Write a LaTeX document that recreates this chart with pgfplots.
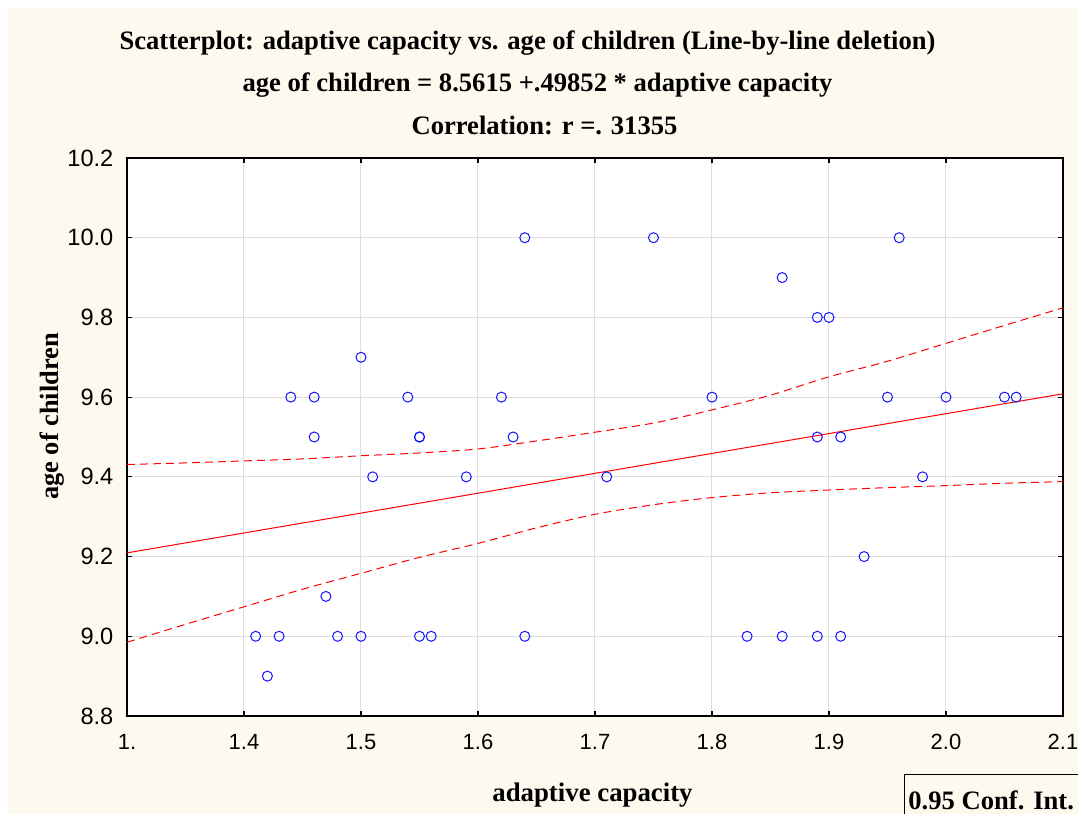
\documentclass[border=0pt]{standalone}
\usepackage{fontspec}
\setmainfont{Liberation Serif}
\setsansfont{Liberation Sans}
\usepackage{pgfplots}
\pgfplotsset{compat=1.18}
\definecolor{cream}{RGB}{253,249,238}
\definecolor{gridgray}{RGB}{222,222,222}
\definecolor{ptblue}{RGB}{20,20,255}
\definecolor{lnred}{RGB}{255,0,0}

\begin{document}
\begin{tikzpicture}[x=1pt,y=1pt]
\fill[white] (0,0) rectangle (539,407);
\fill[cream] (4,0) rectangle (539,403);
\useasboundingbox (0,0) rectangle (539,407);
\begin{axis}[
  at={(63.5pt,49pt)}, anchor=south west,
  scale only axis, width=468pt, height=279pt,
  xmin=1.3, xmax=2.1, ymin=8.8, ymax=10.2,
  axis background/.style={fill=white},
  axis line style={black, line width=0.75pt},
  xtick={1.3,1.4,1.5,1.6,1.7,1.8,1.9,2.0,2.1},
  xticklabels={1.,1.4,1.5,1.6,1.7,1.8,1.9,2.0,2.1},
  ytick={8.8,9.0,9.2,9.4,9.6,9.8,10.0,10.2},
  yticklabels={8.8,9.0,9.2,9.4,9.6,9.8,10.0,10.2},
  tick align=inside, major tick length=2.5pt,
  tick style={black, line width=0.6pt},
  grid=major,
  major grid style={gridgray, line width=0.5pt},
  xticklabel style={font=\sffamily\fontsize{11}{12}\selectfont, yshift=-5.5pt},
  yticklabel style={font=\sffamily\fontsize{11.8}{13}\selectfont, xshift=-3.3pt},
  clip=true,
]
\addplot[lnred, line width=0.5pt] coordinates {(1.3,9.2093) (2.1,9.6084)};
\addplot[lnred, line width=0.5pt, dash pattern=on 4pt off 2.5pt, smooth] coordinates {
(1.30,9.431) (1.35,9.435) (1.40,9.440) (1.45,9.445) (1.50,9.453) (1.55,9.460)
(1.60,9.470) (1.65,9.490) (1.70,9.512) (1.75,9.535) (1.80,9.568) (1.85,9.605)
(1.90,9.651) (1.95,9.690) (2.00,9.735) (2.05,9.780) (2.10,9.824)};
\addplot[lnred, line width=0.5pt, dash pattern=on 4pt off 2.5pt, smooth] coordinates {
(1.30,8.985) (1.35,9.030) (1.40,9.074) (1.45,9.118) (1.50,9.158) (1.55,9.198)
(1.60,9.233) (1.65,9.272) (1.70,9.306) (1.75,9.330) (1.80,9.348) (1.85,9.360)
(1.90,9.367) (1.95,9.373) (2.00,9.378) (2.05,9.384) (2.10,9.388)};
\addplot[only marks, mark=o, mark size=2.5pt, ptblue, mark options={line width=0.5pt}] coordinates {
(1.41,9.0) (1.43,9.0) (1.42,8.9) (1.44,9.6) (1.46,9.6) (1.46,9.5) (1.47,9.1)
(1.48,9.0) (1.50,9.0) (1.50,9.7) (1.51,9.4) (1.54,9.6) (1.55,9.5) (1.55,9.5)
(1.55,9.0) (1.56,9.0) (1.59,9.4) (1.62,9.6) (1.63,9.5) (1.64,10.0) (1.64,9.0)
(1.71,9.4) (1.75,10.0) (1.80,9.6) (1.83,9.0) (1.86,9.9) (1.86,9.0) (1.89,9.8)
(1.90,9.8) (1.89,9.5) (1.89,9.0) (1.91,9.5) (1.91,9.0) (1.93,9.2) (1.95,9.6)
(1.96,10.0) (1.98,9.4) (2.00,9.6) (2.05,9.6) (2.06,9.6)};
\end{axis}
\node[anchor=base, font=\bfseries\fontsize{13.3}{15}\selectfont] at (263.75,382)
  {Scatterplot: adaptive capacity vs. age of children (Line-by-line deletion)};
\node[anchor=base, font=\bfseries\fontsize{13.3}{15}\selectfont] at (268.75,361)
  {age of children = 8.5615 +.49852 * adaptive capacity};
\node[anchor=base, font=\bfseries\fontsize{13.3}{15}\selectfont] at (272.25,339.5)
  {Correlation: r =. 31355};
\node[anchor=base, font=\bfseries\fontsize{13.4}{15}\selectfont] at (296.25,6.2)
  {adaptive capacity};
\node[rotate=90, font=\bfseries\fontsize{13.2}{15}\selectfont] at (26,198.75)
  {age of children};
\draw[black, line width=0.5pt] (452,-5) -- (452,19.5) -- (545,19.5);
\node[anchor=base west, inner sep=0pt, font=\bfseries\fontsize{13.3}{15}\selectfont] at (454,2)
  {0.95 Conf. Int.};
\end{tikzpicture}
\end{document}
